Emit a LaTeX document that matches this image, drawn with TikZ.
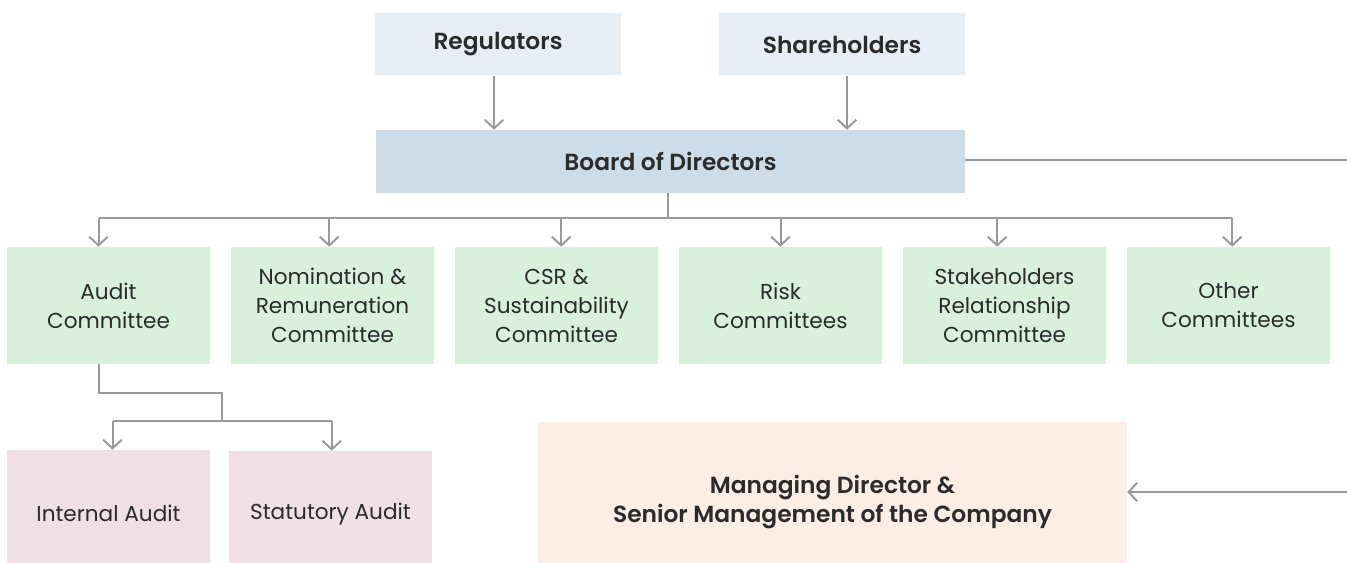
\documentclass[tikz,border=0pt]{standalone}
\usepackage{fontspec}
\setmainfont{Poppins}[BoldFont={Poppins SemiBold}]
\usetikzlibrary{arrows.meta,positioning}

\definecolor{topblue}{HTML}{E6EDF5}
\definecolor{boardblue}{HTML}{CCDCE8}
\definecolor{commgreen}{HTML}{D8F0DC}
\definecolor{auditpink}{HTML}{F0DFE4}
\definecolor{mdpeach}{HTML}{FCEDE5}
\definecolor{linegray}{HTML}{9A9A9D}
\definecolor{textdark}{HTML}{2B2B2B}

\tikzset{
  box/.style={inner sep=0pt, align=center, text=textdark, font=\fontsize{16.2}{21.75}\selectfont},
  boldtext/.style={font=\fontsize{17.5}{21.5}\selectfont\bfseries},
  headbox/.style={box, fill=topblue, minimum width=184.5pt, minimum height=46.5pt, boldtext},
  commbox/.style={box, fill=commgreen, minimum width=152.25pt, minimum height=87.75pt},
  auditbox/.style={box, fill=auditpink, minimum width=152.25pt, minimum height=94.5pt},
  link/.style={draw=linegray, line width=1.5pt},
  arrow/.style={link, -{Straight Barb[length=6.5pt,width=14pt,line width=1.5pt]}}
}

\begin{document}
\begin{tikzpicture}[x=0.75pt,y=-0.75pt]
  \useasboundingbox (0,0) rectangle (1347,563);
  \clip (0,0) rectangle (1347,563);

  % top row
  \node[headbox] (reg) at (498,44.5) {Regulators};
  \node[headbox] (sha) at (842,44.5) {Shareholders};
  \node[box, fill=boardblue, minimum width=441.75pt, minimum height=47.25pt, boldtext] (board) at (670.5,161.5) {Board of Directors};

  % committees
  \node[commbox] (audit) at (108.5,305.5) {Audit\\Committee};
  \node[commbox] (nom)   at (332.5,305.5) {Nomination \&\\Remuneration\\Committee};
  \node[commbox] (csr)   at (556.5,305.5) {CSR \&\\Sustainability\\Committee};
  \node[commbox] (risk)  at (780.5,305.5) {Risk\\Committees};
  \node[commbox] (stake) at (1004.5,305.5) {Stakeholders\\Relationship\\Committee};
  \node[commbox] (other) at (1228.5,305.5) {Other\\Committees};

  % audits and management
  \node[auditbox] (internal) at (108.5,513) {Internal Audit};
  \node[auditbox] (statutory) at (330.5,514) {Statutory Audit};
  \node[box, fill=mdpeach, minimum width=441.75pt, minimum height=120pt, boldtext] (md) at (832.5,502) {Managing Director \&\\Senior Management of the Company};

  \coordinate (boardout) at (1347,160);
  \coordinate (mdin) at (1347,492);

  % connectors
  \draw[arrow] ([xshift=-3pt]reg.south) -- ([xshift=-3pt]reg.south |- board.north);
  \draw[arrow] ([xshift=3.75pt]sha.south) -- ([xshift=3.75pt]sha.south |- board.north);
  \draw[link] ([xshift=-2pt]board.south) -- ++(0,25) coordinate (bus);
  \draw[link] ([xshift=-7.5pt]audit.north |- bus) -- ([xshift=2.75pt]other.north |- bus);
  \draw[arrow] ([xshift=-7.5pt]audit.north |- bus) -- ([xshift=-7.5pt]audit.north);
  \draw[arrow] ([xshift=-2.5pt]nom.north |- bus) -- ([xshift=-2.5pt]nom.north);
  \draw[arrow] ([xshift=3.5pt]csr.north |- bus) -- ([xshift=3.5pt]csr.north);
  \draw[arrow] (risk.north |- bus) -- (risk.north);
  \draw[arrow] ([xshift=-5.5pt]stake.north |- bus) -- ([xshift=-5.5pt]stake.north);
  \draw[arrow] ([xshift=2.75pt]other.north |- bus) -- ([xshift=2.75pt]other.north);

  \draw[link] ([xshift=-7pt]audit.south) -- ++(0,29) -| (222,421) coordinate (abus);
  \draw[link] ([xshift=3pt]internal.north |- abus) -- ([xshift=1pt]statutory.north |- abus);
  \draw[arrow] ([xshift=3pt]internal.north |- abus) -- ([xshift=3pt]internal.north);
  \draw[arrow] ([xshift=1pt]statutory.north |- abus) -- ([xshift=1pt]statutory.north);

  \draw[link] (board.east |- boardout) -- (boardout);
  \draw[arrow] (mdin) -- (md.east |- mdin);
\end{tikzpicture}
\end{document}
